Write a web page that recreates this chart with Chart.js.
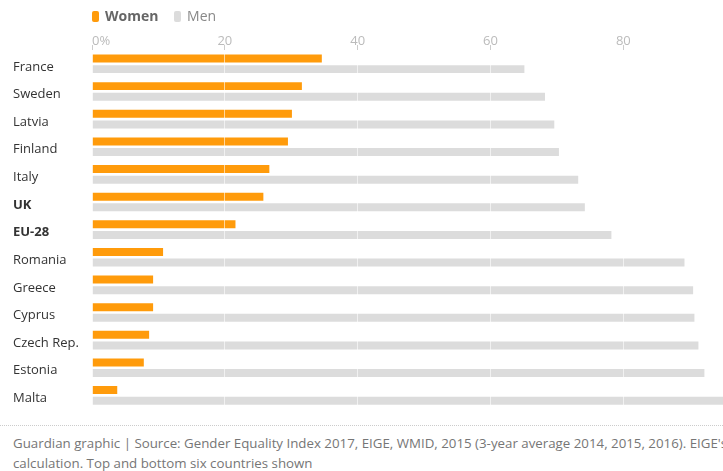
<!DOCTYPE html>
<html>
<head>
<meta charset="utf-8">
<script src="https://cdn.jsdelivr.net/npm/chart.js@4/dist/chart.umd.min.js"></script>
<style>
  body { margin: 0; background: #fff; font-family: "Open Sans", sans-serif; }
  #wrap { position: relative; width: 723px; height: 471px; overflow: hidden; }
  #legend { position: absolute; left: 92px; top: 6px; font-size: 14px; color: #666; }
  #legend span.sw { display: inline-block; width: 7px; height: 11px; border-radius: 2px; vertical-align: -1px; margin-right: 6px; }
  #legend .item { margin-right: 12px; }
  #box { position: absolute; left: 0; top: 0; width: 723px; height: 420px; }
  #foot { position: absolute; left: 0; top: 425px; width: 780px; border-top: 1px dotted #ccc; padding: 7px 0 0 13px; font-size: 13.3px; line-height: 20px; color: #767676; white-space: nowrap; }
</style>
</head>
<body>
<div id="wrap">
  <div id="box"><canvas id="myChart"></canvas></div>
  <div id="legend">
    <span class="item"><span class="sw" style="background:#ff9b0b"></span><b>Women</b></span>
    <span class="item"><span class="sw" style="background:#dcdcdc"></span><span style="color:#888">Men</span></span>
  </div>
  <div id="foot">Guardian graphic | Source: Gender Equality Index 2017, EIGE, WMID, 2015 (3-year average 2014, 2015, 2016). EIGE's<br>calculation. Top and bottom six countries shown</div>
</div>
<script>
var countries = ['France','Sweden','Latvia','Finland','Italy','UK','EU-28','Romania','Greece','Cyprus','Czech Rep.','Estonia','Malta']
var women = [34.6, 31.6, 30.1, 29.5, 26.7, 25.8, 21.6, 10.7, 9.2, 9.2, 8.6, 7.8, 3.8]
var men = [65.1, 68.2, 69.6, 70.3, 73.2, 74.2, 78.2, 89.2, 90.5, 90.7, 91.3, 92.2, 95]
var xTicks = [0, 20, 40, 60, 80]
var boldRows = ['UK', 'EU-28']

// top axis labels, first one carries the % sign and sits right of its tick
var topLabels = {
  id: 'topLabels',
  afterDraw: function(chart){
    var ctx = chart.ctx
    var sx = chart.scales.x
    ctx.save()
    ctx.font = '13px "Open Sans"'
    ctx.fillStyle = '#bbb'
    ctx.textBaseline = 'middle'
    xTicks.forEach(function(v, i){
      var px = sx.getPixelForValue(v)
      ctx.textAlign = i == 0 ? 'left' : 'center'
      ctx.fillText(i == 0 ? v + '%' : String(v), px, 41)
    })
    ctx.restore()
  }
}

var ctx = document.getElementById('myChart').getContext('2d')
var chart = new Chart(ctx, {
  type: 'bar',
  plugins: [topLabels],
  data: {
    labels: countries,
    datasets: [{
      label: 'Women',
      data: women,
      backgroundColor: '#ff9b0b',
      categoryPercentage: 0.77,
      barPercentage: 0.75
    }, {
      label: 'Men',
      data: men,
      backgroundColor: '#dcdcdc',
      categoryPercentage: 0.77,
      barPercentage: 0.75
    }]
  },
  options: {
    indexAxis: 'y',
    responsive: true,
    maintainAspectRatio: false,
    animation: false,
    layout: { padding: { top: 45, bottom: 9, left: 13, right: 0 } },
    plugins: {
      legend: { display: false },
      tooltip: { enabled: false }
    },
    scales: {
      x: {
        position: 'top',
        min: 0,
        max: 95,
        afterBuildTicks: function(scale){
          scale.ticks = xTicks.map(function(v){ return { value: v } })
        },
        ticks: { display: false },
        grid: {
          z: 1,
          color: 'rgba(255,255,255,0.6)',
          tickColor: '#ccc',
          tickLength: 5
        },
        border: { display: false }
      },
      y: {
        afterFit: function(scale){ scale.width = 79 },
        grid: { display: false },
        border: { display: false },
        ticks: {
          crossAlign: 'far',
          labelOffset: 3,
          color: '#333',
          font: function(c){
            var bold = boldRows.indexOf(countries[c.index]) >= 0
            return { family: '"Open Sans"', size: 13, weight: bold ? 'bold' : 'normal' }
          }
        }
      }
    }
  }
})
</script>
</body>
</html>
